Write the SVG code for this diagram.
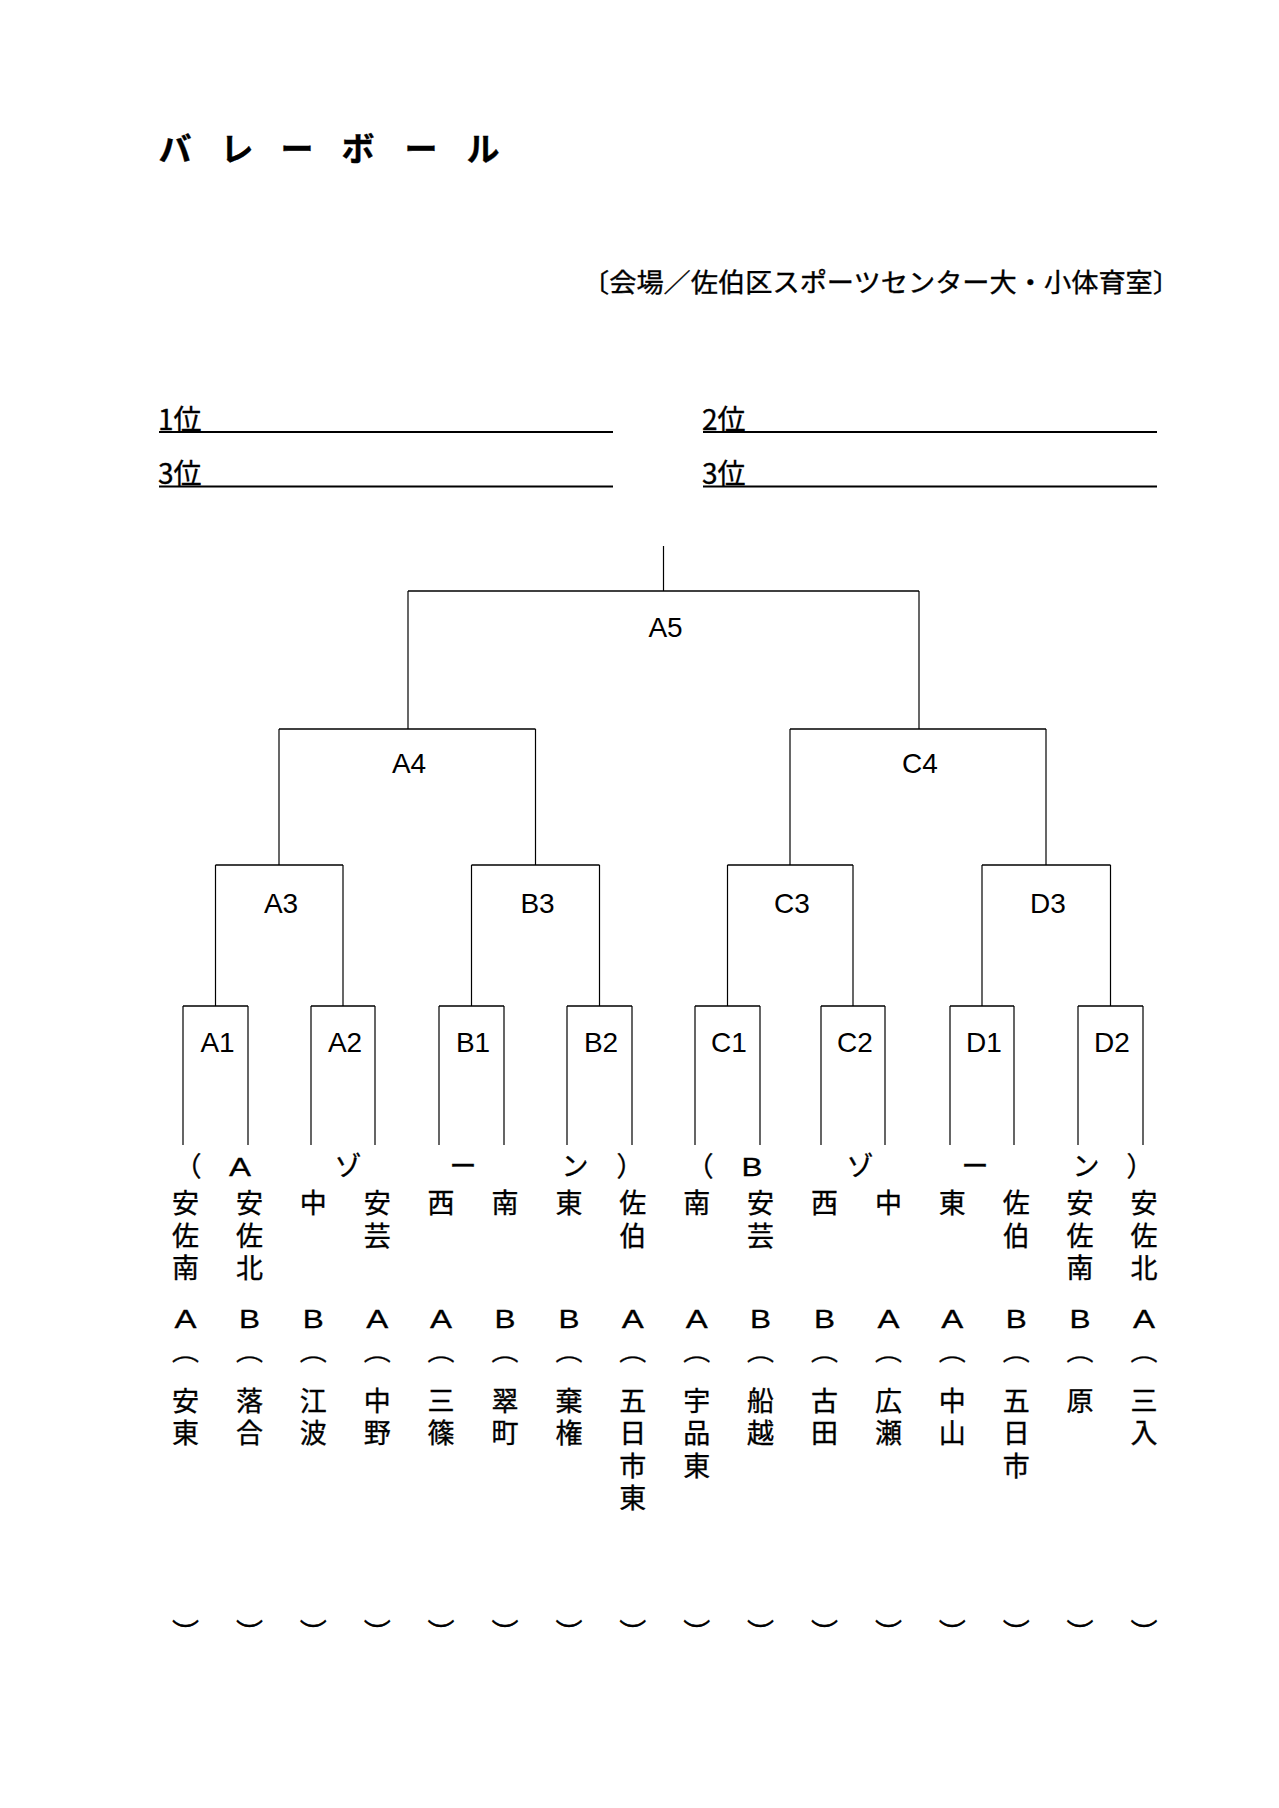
<svg xmlns="http://www.w3.org/2000/svg" width="1279" height="1808" viewBox="0 0 1279 1808">
<style>
.jp{font-family:"Noto Sans CJK JP","Noto Sans CJK SC",sans-serif;fill:#000;stroke:#000;stroke-width:0.35}
.lat{font-family:"Liberation Sans",Arial,sans-serif;fill:#000}
.name{font-size:27px;text-anchor:middle}
.arc{font-size:22px;text-anchor:middle}
.lbl{font-size:28px;text-anchor:middle}
.ltr{font-size:26px;text-anchor:middle;stroke:#000;stroke-width:0.3}
.zl{font-size:26px;text-anchor:middle;stroke:#000;stroke-width:0.3}
.v{stroke:#000;stroke-width:1.2;fill:none}
.h{stroke:#000;stroke-width:1.7;fill:none}
.ul{stroke:#000;stroke-width:2;fill:none}
</style>
<rect width="1279" height="1808" fill="#fff"/>
<g id="header">
<text class="jp" font-size="33" font-weight="bold" text-anchor="middle" x="175 237 297 358 421 483" y="161">バレーボール</text>
<text class="jp" font-size="26" x="582" y="292" textLength="598" lengthAdjust="spacingAndGlyphs">〔会場／佐伯区スポーツセンター大・小体育室〕</text>
</g>
<g id="ranks">
<text class="jp" font-size="28" x="158" y="430">1位</text>
<text class="jp" font-size="28" x="702" y="430">2位</text>
<text class="jp" font-size="28" x="158" y="484">3位</text>
<text class="jp" font-size="28" x="702" y="484">3位</text>
<line class="ul" x1="159" y1="432" x2="613" y2="432"/>
<line class="ul" x1="703" y1="432" x2="1157" y2="432"/>
<line class="ul" x1="159" y1="486.5" x2="613" y2="486.5"/>
<line class="ul" x1="703" y1="486.5" x2="1157" y2="486.5"/>
</g>
<g id="connectors">
<line class="v" x1="663.5" y1="546" x2="663.5" y2="591"/>
<line class="h" x1="408" y1="591" x2="919" y2="591"/>
<line class="v" x1="408" y1="591" x2="408" y2="729"/>
<line class="v" x1="919" y1="591" x2="919" y2="729"/>
<line class="h" x1="279" y1="729" x2="535.5" y2="729"/>
<line class="h" x1="790" y1="729" x2="1046" y2="729"/>
<line class="v" x1="279" y1="729" x2="279" y2="865"/>
<line class="v" x1="535.5" y1="729" x2="535.5" y2="865"/>
<line class="v" x1="790" y1="729" x2="790" y2="865"/>
<line class="v" x1="1046" y1="729" x2="1046" y2="865"/>
<line class="h" x1="215.5" y1="865" x2="343" y2="865"/>
<line class="h" x1="471.5" y1="865" x2="599.5" y2="865"/>
<line class="h" x1="727.5" y1="865" x2="853" y2="865"/>
<line class="h" x1="982" y1="865" x2="1110.5" y2="865"/>
<line class="v" x1="215.5" y1="865" x2="215.5" y2="1006"/>
<line class="v" x1="343" y1="865" x2="343" y2="1006"/>
<line class="v" x1="471.5" y1="865" x2="471.5" y2="1006"/>
<line class="v" x1="599.5" y1="865" x2="599.5" y2="1006"/>
<line class="v" x1="727.5" y1="865" x2="727.5" y2="1006"/>
<line class="v" x1="853" y1="865" x2="853" y2="1006"/>
<line class="v" x1="982" y1="865" x2="982" y2="1006"/>
<line class="v" x1="1110.5" y1="865" x2="1110.5" y2="1006"/>
<path class="h" d="M183 1006H248M311 1006H375M439 1006H504M567 1006H632M695 1006H760M821 1006H885M950 1006H1014M1078 1006H1143"/>
<path class="v" d="M183 1006V1145M248 1006V1145M311 1006V1145M375 1006V1145M439 1006V1145M504 1006V1145M567 1006V1145M632 1006V1145M695 1006V1145M760 1006V1145M821 1006V1145M885 1006V1145M950 1006V1145M1014 1006V1145M1078 1006V1145M1143 1006V1145"/>
</g>
<g id="matches" class="lat lbl">
<g id="A5"><text x="665.5" y="637">A5</text></g>
<g id="A4"><text x="409" y="773">A4</text></g>
<g id="C4"><text x="920" y="773">C4</text></g>
<g id="A3"><text x="281" y="913">A3</text></g>
<g id="B3"><text x="537.5" y="913">B3</text></g>
<g id="C3"><text x="792" y="913">C3</text></g>
<g id="D3"><text x="1048" y="913">D3</text></g>
<g id="A1"><text x="217.5" y="1052">A1</text></g>
<g id="A2"><text x="345" y="1052">A2</text></g>
<g id="B1"><text x="473" y="1052">B1</text></g>
<g id="B2"><text x="601" y="1052">B2</text></g>
<g id="C1"><text x="729" y="1052">C1</text></g>
<g id="C2"><text x="855" y="1052">C2</text></g>
<g id="D1"><text x="984" y="1052">D1</text></g>
<g id="D2"><text x="1112" y="1052">D2</text></g>
</g>
<g id="zones">
<text class="jp" font-size="27" text-anchor="middle" x="188" y="1176">（</text>
<text class="lat zl" x="240" y="1176" textLength="22" lengthAdjust="spacingAndGlyphs">A</text>
<text class="jp" font-size="27" text-anchor="middle" x="348 463 575" y="1176">ゾーン</text>
<text class="jp" font-size="27" text-anchor="middle" x="630" y="1176">）</text>
<text class="jp" font-size="27" text-anchor="middle" x="700" y="1176">（</text>
<text class="lat zl" x="752" y="1176" textLength="21" lengthAdjust="spacingAndGlyphs">B</text>
<text class="jp" font-size="27" text-anchor="middle" x="860 975 1086" y="1176">ゾーン</text>
<text class="jp" font-size="27" text-anchor="middle" x="1140" y="1176">）</text>
</g>
<g id="teams">
<g id="team1"><text class="jp name" x="185.5 185.5 185.5" y="1213 1245.5 1278">安佐南</text><text class="lat ltr" x="185.5" y="1328" textLength="22" lengthAdjust="spacingAndGlyphs">A</text><text class="jp arc" x="185.5" y="1360" textLength="27" lengthAdjust="spacingAndGlyphs">︵</text><text class="jp name" x="185.5 185.5" y="1410.5 1443">安東</text><text class="jp name" x="185.5" y="1643">︶</text></g>
<g id="team2"><text class="jp name" x="249.5 249.5 249.5" y="1213 1245.5 1278">安佐北</text><text class="lat ltr" x="249.5" y="1328" textLength="21" lengthAdjust="spacingAndGlyphs">B</text><text class="jp arc" x="249.5" y="1360" textLength="27" lengthAdjust="spacingAndGlyphs">︵</text><text class="jp name" x="249.5 249.5" y="1410.5 1443">落合</text><text class="jp name" x="249.5" y="1643">︶</text></g>
<g id="team3"><text class="jp name" x="313.3" y="1213">中</text><text class="lat ltr" x="313.3" y="1328" textLength="21" lengthAdjust="spacingAndGlyphs">B</text><text class="jp arc" x="313.3" y="1360" textLength="27" lengthAdjust="spacingAndGlyphs">︵</text><text class="jp name" x="313.3 313.3" y="1410.5 1443">江波</text><text class="jp name" x="313.3" y="1643">︶</text></g>
<g id="team4"><text class="jp name" x="377.2 377.2" y="1213 1245.5">安芸</text><text class="lat ltr" x="377.2" y="1328" textLength="22" lengthAdjust="spacingAndGlyphs">A</text><text class="jp arc" x="377.2" y="1360" textLength="27" lengthAdjust="spacingAndGlyphs">︵</text><text class="jp name" x="377.2 377.2" y="1410.5 1443">中野</text><text class="jp name" x="377.2" y="1643">︶</text></g>
<g id="team5"><text class="jp name" x="441.1" y="1213">西</text><text class="lat ltr" x="441.1" y="1328" textLength="22" lengthAdjust="spacingAndGlyphs">A</text><text class="jp arc" x="441.1" y="1360" textLength="27" lengthAdjust="spacingAndGlyphs">︵</text><text class="jp name" x="441.1 441.1" y="1410.5 1443">三篠</text><text class="jp name" x="441.1" y="1643">︶</text></g>
<g id="team6"><text class="jp name" x="505" y="1213">南</text><text class="lat ltr" x="505" y="1328" textLength="21" lengthAdjust="spacingAndGlyphs">B</text><text class="jp arc" x="505" y="1360" textLength="27" lengthAdjust="spacingAndGlyphs">︵</text><text class="jp name" x="505 505" y="1410.5 1443">翠町</text><text class="jp name" x="505" y="1643">︶</text></g>
<g id="team7"><text class="jp name" x="568.9" y="1213">東</text><text class="lat ltr" x="568.9" y="1328" textLength="21" lengthAdjust="spacingAndGlyphs">B</text><text class="jp arc" x="568.9" y="1360" textLength="27" lengthAdjust="spacingAndGlyphs">︵</text><text class="jp name" x="568.9 568.9" y="1410.5 1443">棄権</text><text class="jp name" x="568.9" y="1643">︶</text></g>
<g id="team8"><text class="jp name" x="632.8 632.8" y="1213 1245.5">佐伯</text><text class="lat ltr" x="632.8" y="1328" textLength="22" lengthAdjust="spacingAndGlyphs">A</text><text class="jp arc" x="632.8" y="1360" textLength="27" lengthAdjust="spacingAndGlyphs">︵</text><text class="jp name" x="632.8 632.8 632.8 632.8" y="1410.5 1443 1475.5 1508">五日市東</text><text class="jp name" x="632.8" y="1643">︶</text></g>
<g id="team9"><text class="jp name" x="696.7" y="1213">南</text><text class="lat ltr" x="696.7" y="1328" textLength="22" lengthAdjust="spacingAndGlyphs">A</text><text class="jp arc" x="696.7" y="1360" textLength="27" lengthAdjust="spacingAndGlyphs">︵</text><text class="jp name" x="696.7 696.7 696.7" y="1410.5 1443 1475.5">宇品東</text><text class="jp name" x="696.7" y="1643">︶</text></g>
<g id="team10"><text class="jp name" x="760.6 760.6" y="1213 1245.5">安芸</text><text class="lat ltr" x="760.6" y="1328" textLength="21" lengthAdjust="spacingAndGlyphs">B</text><text class="jp arc" x="760.6" y="1360" textLength="27" lengthAdjust="spacingAndGlyphs">︵</text><text class="jp name" x="760.6 760.6" y="1410.5 1443">船越</text><text class="jp name" x="760.6" y="1643">︶</text></g>
<g id="team11"><text class="jp name" x="824.5" y="1213">西</text><text class="lat ltr" x="824.5" y="1328" textLength="21" lengthAdjust="spacingAndGlyphs">B</text><text class="jp arc" x="824.5" y="1360" textLength="27" lengthAdjust="spacingAndGlyphs">︵</text><text class="jp name" x="824.5 824.5" y="1410.5 1443">古田</text><text class="jp name" x="824.5" y="1643">︶</text></g>
<g id="team12"><text class="jp name" x="888.4" y="1213">中</text><text class="lat ltr" x="888.4" y="1328" textLength="22" lengthAdjust="spacingAndGlyphs">A</text><text class="jp arc" x="888.4" y="1360" textLength="27" lengthAdjust="spacingAndGlyphs">︵</text><text class="jp name" x="888.4 888.4" y="1410.5 1443">広瀬</text><text class="jp name" x="888.4" y="1643">︶</text></g>
<g id="team13"><text class="jp name" x="952.3" y="1213">東</text><text class="lat ltr" x="952.3" y="1328" textLength="22" lengthAdjust="spacingAndGlyphs">A</text><text class="jp arc" x="952.3" y="1360" textLength="27" lengthAdjust="spacingAndGlyphs">︵</text><text class="jp name" x="952.3 952.3" y="1410.5 1443">中山</text><text class="jp name" x="952.3" y="1643">︶</text></g>
<g id="team14"><text class="jp name" x="1016.2 1016.2" y="1213 1245.5">佐伯</text><text class="lat ltr" x="1016.2" y="1328" textLength="21" lengthAdjust="spacingAndGlyphs">B</text><text class="jp arc" x="1016.2" y="1360" textLength="27" lengthAdjust="spacingAndGlyphs">︵</text><text class="jp name" x="1016.2 1016.2 1016.2" y="1410.5 1443 1475.5">五日市</text><text class="jp name" x="1016.2" y="1643">︶</text></g>
<g id="team15"><text class="jp name" x="1080.1 1080.1 1080.1" y="1213 1245.5 1278">安佐南</text><text class="lat ltr" x="1080.1" y="1328" textLength="21" lengthAdjust="spacingAndGlyphs">B</text><text class="jp arc" x="1080.1" y="1360" textLength="27" lengthAdjust="spacingAndGlyphs">︵</text><text class="jp name" x="1080.1" y="1410.5">原</text><text class="jp name" x="1080.1" y="1643">︶</text></g>
<g id="team16"><text class="jp name" x="1144 1144 1144" y="1213 1245.5 1278">安佐北</text><text class="lat ltr" x="1144" y="1328" textLength="22" lengthAdjust="spacingAndGlyphs">A</text><text class="jp arc" x="1144" y="1360" textLength="27" lengthAdjust="spacingAndGlyphs">︵</text><text class="jp name" x="1144 1144" y="1410.5 1443">三入</text><text class="jp name" x="1144" y="1643">︶</text></g>
</g>
</svg>
